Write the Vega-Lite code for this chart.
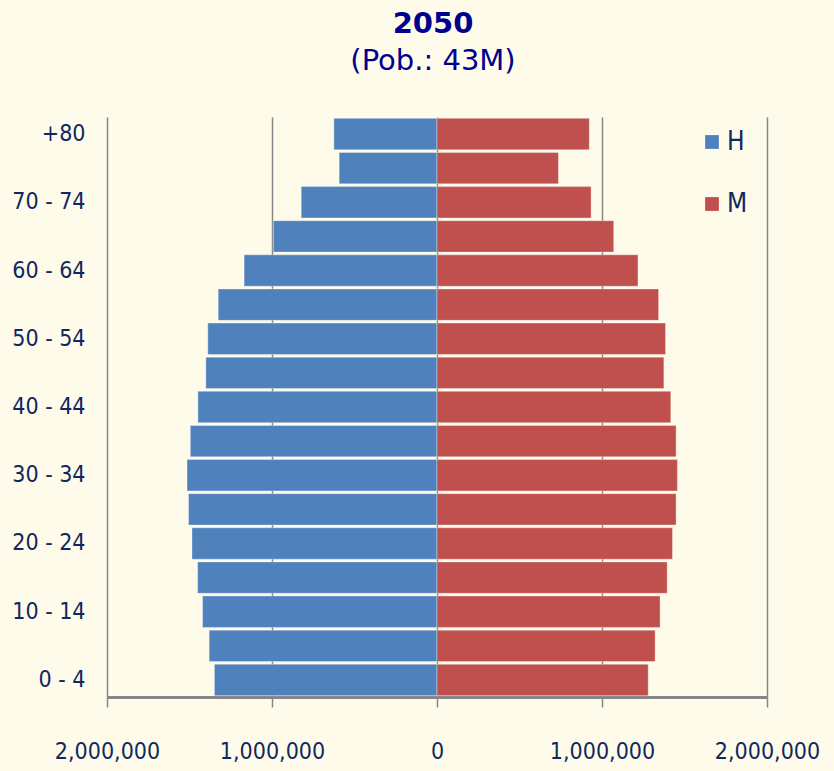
{
  "$schema": "https://vega.github.io/schema/vega-lite/v6.json",
  "width": 660,
  "height": 580,
  "autosize": {"type": "none"},
  "padding": {"left": 107, "top": 117, "right": 67, "bottom": 74},
  "background": "#FFFBEB",
  "config": {"view": {"stroke": null}},
  "title": {
    "text": "2050",
    "subtitle": "(Pob.: 43M)",
    "anchor": "middle",
    "frame": "group",
    "font": "DejaVu Sans",
    "fontSize": 29,
    "fontWeight": "bold",
    "color": "#00008F",
    "subtitleFont": "DejaVu Sans",
    "subtitleFontSize": 29,
    "subtitleColor": "#00008F",
    "subtitlePadding": 8,
    "offset": 41,
    "dx": -4
  },
  "data": {
    "values": [
      {"age": "0 - 4", "sex": "H", "value": -1349000},
      {"age": "5 - 9", "sex": "H", "value": -1381000},
      {"age": "10 - 14", "sex": "H", "value": -1421000},
      {"age": "15 - 19", "sex": "H", "value": -1451000},
      {"age": "20 - 24", "sex": "H", "value": -1485000},
      {"age": "25 - 29", "sex": "H", "value": -1506000},
      {"age": "30 - 34", "sex": "H", "value": -1515000},
      {"age": "35 - 39", "sex": "H", "value": -1495000},
      {"age": "40 - 44", "sex": "H", "value": -1449000},
      {"age": "45 - 49", "sex": "H", "value": -1401000},
      {"age": "50 - 54", "sex": "H", "value": -1389000},
      {"age": "55 - 59", "sex": "H", "value": -1326000},
      {"age": "60 - 64", "sex": "H", "value": -1169000},
      {"age": "65 - 69", "sex": "H", "value": -992000},
      {"age": "70 - 74", "sex": "H", "value": -823000},
      {"age": "75 - 79", "sex": "H", "value": -593000},
      {"age": "+80", "sex": "H", "value": -625000},
      {"age": "0 - 4", "sex": "M", "value": 1280000},
      {"age": "5 - 9", "sex": "M", "value": 1322000},
      {"age": "10 - 14", "sex": "M", "value": 1352000},
      {"age": "15 - 19", "sex": "M", "value": 1395000},
      {"age": "20 - 24", "sex": "M", "value": 1427000},
      {"age": "25 - 29", "sex": "M", "value": 1449000},
      {"age": "30 - 34", "sex": "M", "value": 1457000},
      {"age": "35 - 39", "sex": "M", "value": 1449000},
      {"age": "40 - 44", "sex": "M", "value": 1417000},
      {"age": "45 - 49", "sex": "M", "value": 1375000},
      {"age": "50 - 54", "sex": "M", "value": 1385000},
      {"age": "55 - 59", "sex": "M", "value": 1343000},
      {"age": "60 - 64", "sex": "M", "value": 1218000},
      {"age": "65 - 69", "sex": "M", "value": 1071000},
      {"age": "70 - 74", "sex": "M", "value": 934000},
      {"age": "75 - 79", "sex": "M", "value": 736000},
      {"age": "+80", "sex": "M", "value": 923000}
    ]
  },
  "mark": {"type": "bar", "stroke": "#ffffff", "strokeOpacity": 0.35, "strokeWidth": 1},
  "encoding": {
    "y": {
      "field": "age",
      "type": "nominal",
      "sort": ["+80", "75 - 79", "70 - 74", "65 - 69", "60 - 64", "55 - 59", "50 - 54", "45 - 49", "40 - 44", "35 - 39", "30 - 34", "25 - 29", "20 - 24", "15 - 19", "10 - 14", "5 - 9", "0 - 4"],
      "scale": {"paddingInner": 0.08, "paddingOuter": 0.04},
      "axis": {
        "title": null,
        "values": ["+80", "70 - 74", "60 - 64", "50 - 54", "40 - 44", "30 - 34", "20 - 24", "10 - 14", "0 - 4"],
        "domain": false,
        "ticks": false,
        "tickSize": 0,
        "labelPadding": 22,
        "labelFont": "'DejaVu Sans Condensed', Roboto, sans-serif",
        "labelFontSize": 23,
        "labelColor": "#0F2860",
        "grid": false
      }
    },
    "x": {
      "field": "value",
      "type": "quantitative",
      "stack": null,
      "scale": {"domain": [-2000000, 2000000], "nice": false, "zero": false},
      "axis": {
        "title": null,
        "values": [-2000000, -1000000, 0, 1000000, 2000000],
        "labelExpr": "format(abs(datum.value), ',')",
        "grid": true,
        "gridColor": "#868686",
        "gridWidth": 1.5,
        "domain": true,
        "domainColor": "#868686",
        "domainWidth": 3,
        "ticks": true,
        "tickColor": "#868686",
        "tickWidth": 1.5,
        "tickSize": 10,
        "labelPadding": 33,
        "labelFont": "'DejaVu Sans Condensed', Roboto, sans-serif",
        "labelFontSize": 23,
        "labelColor": "#0F2860",
        "labelFlush": false
      }
    },
    "color": {
      "field": "sex",
      "type": "nominal",
      "scale": {"domain": ["H", "M"], "range": ["#4F81BD", "#C0504D"]},
      "legend": {
        "title": null,
        "orient": "none",
        "legendX": 592,
        "legendY": 12,
        "padding": 0,
        "rowPadding": 36,
        "symbolType": "square",
        "symbolSize": 190,
        "symbolStrokeWidth": 0,
        "labelOffset": 2,
        "labelFont": "'DejaVu Sans Condensed', Roboto, sans-serif",
        "labelFontSize": 26,
        "labelColor": "#0F2860"
      }
    }
  }
}
